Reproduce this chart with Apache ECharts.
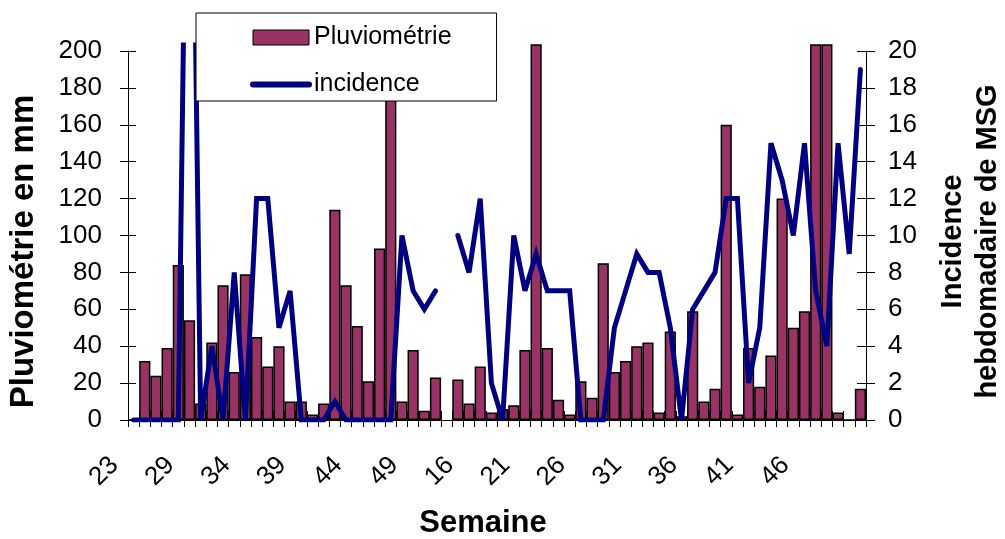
<!DOCTYPE html>
<html>
<head>
<meta charset="utf-8">
<script src="https://cdn.jsdelivr.net/npm/echarts@6/dist/echarts.min.js"></script>
<style>
    html, body { margin: 0; padding: 0; background: #ffffff; }
    #chart { width: 1005px; height: 539px; }
</style>
</head>
<body>
<div id="chart"></div>
<script>
// semaines (week 28 absent, one empty slot at the year break)
const weeks = [
    23, 24, 25, 26, 27, 29, 30, 31, 32, 33, 34, 35, 36, 37, 38, 39, 40, 41, 42, 43,
    44, 45, 46, 47, 48, 49, 50, 51, 52, 15, 16, 17, 18, 19, 20, 21, 22, 23, 24, 25,
    26, 27, 28, 29, 30, 31, 32, 33, 34, 35, 36, 37, 38, 39, 40, 41, 42, 43, 44, 45,
    46, 47, 48, 49, 50, 51
]
// rainfall in mm (bars higher than 200 are cut off by the plot area)
const rainfall = [
    0, 32, 24, 39, 84, 54, 9, 42, 73, 26, 79, 45, 29, 40, 10, 10, 3, 9, 114, 73,
    51, 21, 93, 185, 10, 38, 5, 23, null, 22, 9, 29, 4, 6, 8, 38, 230, 39, 11, 3,
    21, 12, 85, 26, 32, 40, 42, 4, 48, 2, 59, 10, 17, 160, 3, 39, 18, 35, 120, 50,
    59, 250, 230, 4, 0, 17
]
// weekly MSG incidence
const incidence = [
    0, 0, 0, 0, 0, 45, 0, 4, 0, 8, 0, 12, 12, 5, 7, 0, 0, 0, 1, 0,
    0, 0, 0, 0, 10, 7, 6, 7, null, 10, 8, 12, 2, 0, 10, 7, 9, 7, 7, 7,
    0, 0, 0, 5, 7, 9, 8, 8, 5, 0, 6, 7, 8, 12, 12, 2, 5, 15, 13, 10,
    15, 7, 4, 15, 9, 19
]
const rainTicks = [0, 20, 40, 60, 80, 100, 120, 140, 160, 180, 200]

const FONT = 'Liberation Sans, Arial, sans-serif'
const BAR_COLOR = '#993366'
const LINE_COLOR = '#000080'

// axis grid (0..200 / 0..20) and series grid (a bit taller so tall bars overflow like in excel)
const plotLeft = 128
const plotWidth = 738
const axisTop = 51
const axisHeight = 369
const seriesTop = 45
const seriesHeight = 375
const rainMax = 200 * seriesHeight / axisHeight
const incMax = 20 * seriesHeight / axisHeight

function plainAxis(gridIndex) {
    return {
        gridIndex: gridIndex,
        axisLine: { show: false },
        axisTick: { show: false },
        axisLabel: { show: false },
        splitLine: { show: false }
    }
}

const blackLine = { lineStyle: { color: '#000', width: 1 } }

const option = {
    backgroundColor: '#ffffff',
    animation: false,
    textStyle: { fontFamily: FONT, color: '#000' },
    grid: [
        { left: plotLeft, top: axisTop, width: plotWidth, height: axisHeight, outerBoundsMode: 'none', containLabel: false },
        { left: plotLeft, top: seriesTop, width: plotWidth, height: seriesHeight, outerBoundsMode: 'none', containLabel: false }
    ],
    legend: {
        left: 196,
        top: 13,
        orient: 'vertical',
        backgroundColor: '#ffffff',
        borderColor: '#000',
        borderWidth: 1,
        padding: [12, 45, 4, 54],
        itemGap: 22,
        itemWidth: 56,
        itemHeight: 15,
        textStyle: { fontFamily: FONT, fontSize: 25, lineHeight: 24, color: '#000' },
        data: [
            { name: 'Pluviométrie', icon: 'rect', itemStyle: { color: BAR_COLOR, borderColor: '#000', borderWidth: 1 } },
            { name: 'incidence', itemStyle: { opacity: 0 }, lineStyle: { color: LINE_COLOR, width: 6, cap: 'round' } }
        ]
    },
    xAxis: [
        {
            type: 'category',
            gridIndex: 0,
            data: weeks,
            position: 'bottom',
            boundaryGap: true,
            axisLine: blackLine,
            axisTick: { show: true, interval: 0, length: 7, lineStyle: { color: '#000' } },
            axisLabel: {
                interval: function(index) {
                    return index % 5 === 0 && index < 65
                },
                rotate: 45,
                fontSize: 26,
                fontFamily: FONT,
                color: '#000',
                margin: 22,
                padding: [0, 27, 0, 0]
            },
            splitLine: { show: false },
            name: 'Semaine',
            nameLocation: 'middle',
            nameGap: 88,
            nameTextStyle: { fontSize: 31, fontWeight: 'bold', fontFamily: FONT, color: '#000', padding: [0, 28, 0, 0] }
        },
        {
            type: 'category',
            gridIndex: 0,
            data: weeks,
            position: 'bottom',
            boundaryGap: true,
            axisLine: { show: false },
            axisTick: { show: true, inside: true, interval: 0, length: 9, lineStyle: { color: '#000' } },
            axisLabel: { show: false },
            splitLine: { show: false }
        },
        Object.assign({ type: 'category', data: weeks, boundaryGap: true, show: false }, plainAxis(1))
    ],
    yAxis: [
        {
            type: 'value',
            gridIndex: 0,
            position: 'left',
            min: 0,
            max: 200,
            interval: 20,
            axisLine: Object.assign({ show: true }, blackLine),
            axisTick: { show: true, length: 8, lineStyle: { color: '#000' }, customValues: rainTicks },
            axisLabel: { fontSize: 26, fontFamily: FONT, color: '#000', margin: 26, customValues: rainTicks },
            splitLine: { show: false },
            name: 'Pluviométrie en mm',
            nameLocation: 'middle',
            nameGap: 88,
            nameRotate: 90,
            nameTextStyle: { fontSize: 33, fontWeight: 'bold', fontFamily: FONT, color: '#000', padding: [0, 32, 0, 0] }
        },
        {
            type: 'value',
            gridIndex: 0,
            position: 'left',
            min: 0,
            max: 200,
            interval: 20,
            axisLine: { show: false },
            axisTick: { show: true, inside: true, length: 8, lineStyle: { color: '#000' } },
            axisLabel: { show: false },
            splitLine: { show: false }
        },
        {
            type: 'value',
            gridIndex: 0,
            position: 'right',
            min: 0,
            max: 20,
            interval: 2,
            axisLine: Object.assign({ show: true }, blackLine),
            axisTick: { show: true, length: 9, lineStyle: { color: '#000' } },
            axisLabel: { fontSize: 26, fontFamily: FONT, color: '#000', margin: 22 },
            splitLine: { show: false },
            name: 'Incidence\nhebdomadaire de MSG',
            nameLocation: 'middle',
            nameGap: 69,
            nameRotate: 90,
            nameTextStyle: { fontSize: 29, lineHeight: 35, fontWeight: 'bold', fontFamily: FONT, color: '#000', padding: [0, 12, 0, 0] }
        },
        {
            type: 'value',
            gridIndex: 0,
            position: 'right',
            min: 0,
            max: 20,
            interval: 2,
            axisLine: { show: false },
            axisTick: { show: true, inside: true, length: 9, lineStyle: { color: '#000' } },
            axisLabel: { show: false },
            splitLine: { show: false }
        },
        Object.assign({ type: 'value', min: 0, max: rainMax, show: false }, plainAxis(1)),
        Object.assign({ type: 'value', min: 0, max: incMax, show: false }, plainAxis(1))
    ],
    series: [
        {
            name: 'Pluviométrie',
            type: 'bar',
            xAxisIndex: 2,
            yAxisIndex: 4,
            data: rainfall,
            barWidth: '100%',
            itemStyle: { color: BAR_COLOR, borderColor: '#000', borderWidth: 1.5 }
        },
        {
            name: 'incidence',
            type: 'line',
            xAxisIndex: 2,
            yAxisIndex: 5,
            data: incidence,
            symbol: 'none',
            connectNulls: false,
            lineStyle: { color: LINE_COLOR, width: 5, join: 'miter', miterLimit: 4, cap: 'round' },
            z: 3
        }
    ]
}

document.addEventListener('DOMContentLoaded', function() {
    const chart = echarts.init(document.getElementById('chart'), null, { renderer: 'canvas' })
    chart.setOption(option)
})
</script>
</body>
</html>
